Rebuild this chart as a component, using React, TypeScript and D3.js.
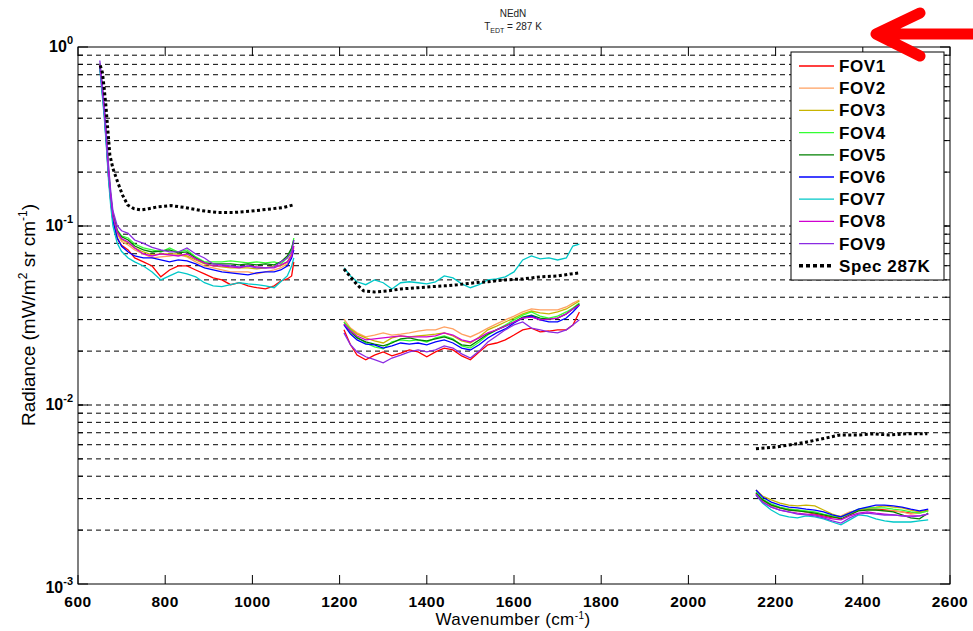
import React from "react";
import * as d3 from "d3";

// wavenumber grids (cm-1) for the three bands
const band1Wn = [650, 655, 660, 665, 670, 675, 680, 690, 700, 715, 730, 750, 770, 790, 810, 830, 850, 870, 890, 910, 930, 950, 970, 990, 1010, 1030, 1050, 1065, 1080, 1090, 1095];
const band2Wn = [1210, 1225, 1240, 1260, 1280, 1300, 1320, 1340, 1360, 1380, 1400, 1420, 1440, 1460, 1480, 1500, 1520, 1540, 1560, 1580, 1600, 1620, 1640, 1660, 1680, 1700, 1720, 1735, 1750];
const band3Wn = [2155, 2170, 2190, 2210, 2230, 2250, 2270, 2290, 2310, 2330, 2350, 2370, 2390, 2410, 2430, 2450, 2470, 2490, 2510, 2530, 2550];

// FOV radiances, band 1
const fov1B1 = [0.8, 0.6, 0.44, 0.3, 0.19, 0.14, 0.108, 0.085, 0.078, 0.0735, 0.0663, 0.063, 0.0598, 0.052, 0.0568, 0.0598, 0.0598, 0.0568, 0.054, 0.0513, 0.05, 0.047, 0.0482, 0.0463, 0.0452, 0.0445, 0.0463, 0.0493, 0.0506, 0.0526, 0.063];
const fov2B1 = [0.79, 0.61, 0.45, 0.31, 0.2, 0.145, 0.112, 0.09, 0.082, 0.0783, 0.0735, 0.0698, 0.0663, 0.0672, 0.068, 0.0689, 0.0672, 0.063, 0.0598, 0.0583, 0.0568, 0.0554, 0.0554, 0.0554, 0.054, 0.0554, 0.0568, 0.0583, 0.0614, 0.068, 0.0754];
const fov3B1 = [0.8, 0.6, 0.45, 0.31, 0.2, 0.145, 0.113, 0.092, 0.084, 0.0804, 0.0754, 0.0716, 0.0689, 0.0698, 0.0698, 0.0698, 0.068, 0.0646, 0.0614, 0.0598, 0.0591, 0.0583, 0.0583, 0.0583, 0.0576, 0.0583, 0.0598, 0.0598, 0.063, 0.0698, 0.0773];
const fov4B1 = [0.81, 0.62, 0.46, 0.32, 0.21, 0.15, 0.118, 0.095, 0.088, 0.0857, 0.0793, 0.0754, 0.0735, 0.0716, 0.0754, 0.0716, 0.0735, 0.0672, 0.063, 0.063, 0.063, 0.0638, 0.063, 0.0622, 0.063, 0.0622, 0.063, 0.0614, 0.0663, 0.0735, 0.0857];
const fov5B1 = [0.8, 0.61, 0.46, 0.31, 0.2, 0.148, 0.116, 0.094, 0.087, 0.0835, 0.0773, 0.0735, 0.0716, 0.0725, 0.0735, 0.0707, 0.0716, 0.0663, 0.0622, 0.0614, 0.0614, 0.0614, 0.0606, 0.0614, 0.0606, 0.0614, 0.0606, 0.063, 0.068, 0.0754, 0.0835];
const fov6B1 = [0.78, 0.58, 0.43, 0.29, 0.19, 0.138, 0.107, 0.086, 0.077, 0.0716, 0.068, 0.0663, 0.0663, 0.0646, 0.063, 0.0646, 0.0638, 0.0614, 0.0583, 0.0568, 0.0554, 0.0547, 0.054, 0.0533, 0.0547, 0.0554, 0.0554, 0.0568, 0.0598, 0.0663, 0.0735];
const fov7B1 = [0.76, 0.56, 0.41, 0.28, 0.18, 0.13, 0.1, 0.08, 0.072, 0.0663, 0.063, 0.0598, 0.0554, 0.05, 0.0526, 0.0554, 0.054, 0.052, 0.0482, 0.0463, 0.0458, 0.047, 0.0482, 0.0475, 0.047, 0.0463, 0.0452, 0.0488, 0.0526, 0.0598, 0.0663];
const fov8B1 = [0.8, 0.61, 0.45, 0.31, 0.2, 0.146, 0.114, 0.093, 0.085, 0.0814, 0.0754, 0.0698, 0.068, 0.0698, 0.0689, 0.068, 0.0698, 0.0655, 0.0622, 0.0598, 0.0598, 0.0591, 0.0583, 0.0598, 0.0591, 0.0583, 0.0583, 0.0606, 0.063, 0.068, 0.0773];
const fov9B1 = [0.84, 0.64, 0.48, 0.33, 0.22, 0.157, 0.122, 0.1, 0.094, 0.091, 0.0835, 0.08, 0.076, 0.0735, 0.0716, 0.0716, 0.0754, 0.0698, 0.0663, 0.0614, 0.0606, 0.0598, 0.0591, 0.0598, 0.0583, 0.0583, 0.0591, 0.063, 0.0663, 0.0716, 0.0835];

// band 2
const fov1B2 = [0.0263, 0.0217, 0.019, 0.0179, 0.019, 0.0198, 0.0188, 0.0195, 0.0203, 0.0198, 0.0186, 0.0198, 0.0208, 0.0203, 0.0188, 0.0179, 0.0198, 0.0217, 0.0222, 0.0231, 0.0246, 0.0263, 0.0269, 0.0256, 0.0259, 0.0263, 0.0263, 0.028, 0.0331];
const fov2B2 = [0.0302, 0.0269, 0.0253, 0.024, 0.0246, 0.0253, 0.0246, 0.0249, 0.0253, 0.0259, 0.0263, 0.0263, 0.0273, 0.0266, 0.0249, 0.024, 0.0253, 0.0269, 0.0284, 0.0299, 0.0314, 0.0331, 0.0344, 0.034, 0.034, 0.034, 0.0353, 0.0371, 0.0386];
const fov3B2 = [0.0291, 0.0266, 0.0249, 0.0237, 0.0228, 0.0222, 0.0237, 0.0243, 0.024, 0.0243, 0.0246, 0.0249, 0.0253, 0.0243, 0.0228, 0.0222, 0.024, 0.0263, 0.0276, 0.0291, 0.0306, 0.0323, 0.0335, 0.0327, 0.0323, 0.0331, 0.0344, 0.0362, 0.0381];
const fov4B2 = [0.0291, 0.0263, 0.024, 0.0222, 0.0211, 0.0206, 0.0225, 0.0231, 0.0228, 0.0231, 0.0225, 0.0237, 0.0243, 0.0234, 0.0214, 0.0208, 0.0225, 0.0246, 0.0263, 0.028, 0.0299, 0.0318, 0.0331, 0.0314, 0.0306, 0.0314, 0.0331, 0.0348, 0.0371];
const fov5B2 = [0.0284, 0.0256, 0.0237, 0.0225, 0.0219, 0.0214, 0.0222, 0.0234, 0.0237, 0.0231, 0.0228, 0.0234, 0.024, 0.0231, 0.0217, 0.0214, 0.0231, 0.0249, 0.0263, 0.0276, 0.0291, 0.031, 0.0318, 0.0306, 0.0302, 0.0306, 0.0323, 0.0344, 0.0367];
const fov6B2 = [0.028, 0.0249, 0.0231, 0.0219, 0.0217, 0.0208, 0.0214, 0.0222, 0.0219, 0.0222, 0.0217, 0.0225, 0.0231, 0.0222, 0.0208, 0.0203, 0.0217, 0.0237, 0.0253, 0.0266, 0.0287, 0.0306, 0.0314, 0.0299, 0.0291, 0.0291, 0.0306, 0.0331, 0.0362];
const fov7B2 = [0.0583, 0.0526, 0.0488, 0.047, 0.05, 0.0482, 0.0445, 0.0482, 0.0488, 0.0482, 0.0475, 0.0488, 0.0526, 0.0513, 0.0475, 0.0452, 0.047, 0.05, 0.0506, 0.052, 0.0554, 0.0646, 0.068, 0.0655, 0.0663, 0.0646, 0.0663, 0.0773, 0.0793];
const fov8B2 = [0.0284, 0.0259, 0.0243, 0.0231, 0.0234, 0.0237, 0.024, 0.0243, 0.024, 0.024, 0.024, 0.0243, 0.0253, 0.0246, 0.0231, 0.0225, 0.0237, 0.0253, 0.0263, 0.0276, 0.0291, 0.0306, 0.031, 0.0299, 0.0302, 0.0306, 0.0323, 0.0344, 0.0362];
const fov9B2 = [0.0253, 0.0217, 0.0198, 0.0186, 0.0179, 0.0172, 0.0183, 0.019, 0.0198, 0.0203, 0.0198, 0.0203, 0.0214, 0.0208, 0.0193, 0.0183, 0.02, 0.0225, 0.0243, 0.0263, 0.028, 0.0291, 0.0269, 0.0263, 0.0256, 0.0253, 0.0263, 0.028, 0.0299];

// band 3
const fov1B3 = [0.00322, 0.00295, 0.00276, 0.00266, 0.00262, 0.00259, 0.00253, 0.00246, 0.0024, 0.00234, 0.00237, 0.00249, 0.00259, 0.00262, 0.00262, 0.00259, 0.00256, 0.00253, 0.00249, 0.00253, 0.00259];
const fov2B3 = [0.00318, 0.00291, 0.00273, 0.00266, 0.00259, 0.00256, 0.00253, 0.00249, 0.00243, 0.00237, 0.0024, 0.00253, 0.00259, 0.00262, 0.00259, 0.00256, 0.00256, 0.00253, 0.00246, 0.00249, 0.00256];
const fov3B3 = [0.00335, 0.0031, 0.00295, 0.00283, 0.00276, 0.00273, 0.00276, 0.00273, 0.00259, 0.00246, 0.00237, 0.00246, 0.00259, 0.00266, 0.00269, 0.00273, 0.00269, 0.00266, 0.00259, 0.00253, 0.00256];
const fov4B3 = [0.00327, 0.00298, 0.0028, 0.00269, 0.00262, 0.00259, 0.00256, 0.00253, 0.00246, 0.0024, 0.00237, 0.00249, 0.00262, 0.00266, 0.00266, 0.00266, 0.00262, 0.00259, 0.00253, 0.00249, 0.00256];
const fov5B3 = [0.00322, 0.00295, 0.00276, 0.00266, 0.00259, 0.00256, 0.00253, 0.00249, 0.00243, 0.00237, 0.00231, 0.00243, 0.00256, 0.00259, 0.00259, 0.00256, 0.00253, 0.00243, 0.00234, 0.00231, 0.00249];
const fov6B3 = [0.00335, 0.00306, 0.00287, 0.00276, 0.00269, 0.00266, 0.00262, 0.00259, 0.00253, 0.00243, 0.00237, 0.00249, 0.00262, 0.00269, 0.00276, 0.00276, 0.00273, 0.00269, 0.00262, 0.00256, 0.00262];
const fov7B3 = [0.00314, 0.00283, 0.00259, 0.00243, 0.00237, 0.00234, 0.0024, 0.00237, 0.00231, 0.00222, 0.00214, 0.00228, 0.00243, 0.0024, 0.00231, 0.00225, 0.00222, 0.00222, 0.00222, 0.00225, 0.00228];
const fov8B3 = [0.00318, 0.00287, 0.00269, 0.00259, 0.00253, 0.00249, 0.00246, 0.00243, 0.00237, 0.00231, 0.00228, 0.0024, 0.00249, 0.00253, 0.00249, 0.00246, 0.00243, 0.0024, 0.0024, 0.0024, 0.00246];
const fov9B3 = [0.00314, 0.00287, 0.00269, 0.00259, 0.00253, 0.00246, 0.00243, 0.0024, 0.00234, 0.00225, 0.00219, 0.00234, 0.00246, 0.00249, 0.00246, 0.00243, 0.00243, 0.0024, 0.00237, 0.0024, 0.00246];

// spec at 287K (dotted black)
const specWn1 = [651, 656, 660, 664, 667, 670, 673, 680, 691, 702, 714, 728, 744, 762, 783, 813, 843, 882, 921, 957, 996, 1035, 1072, 1093];
const specB1 = [0.79, 0.72, 0.59, 0.47, 0.38, 0.31, 0.25, 0.21, 0.176, 0.149, 0.131, 0.125, 0.123, 0.125, 0.128, 0.13, 0.127, 0.122, 0.119, 0.119, 0.121, 0.124, 0.127, 0.131];
const specWn2 = [1210, 1225, 1240, 1255, 1280, 1310, 1340, 1380, 1410, 1440, 1470, 1510, 1540, 1580, 1620, 1660, 1700, 1730, 1750];
const specB2 = [0.0575, 0.052, 0.047, 0.0434, 0.0428, 0.0434, 0.0445, 0.0452, 0.0458, 0.0463, 0.047, 0.0482, 0.0488, 0.05, 0.0506, 0.052, 0.0526, 0.054, 0.0547];
const specWn3 = [2155, 2195, 2235, 2270, 2310, 2348, 2390, 2425, 2460, 2500, 2548];
const specB3 = [0.0057, 0.0058, 0.006, 0.0062, 0.0065, 0.0068, 0.0068, 0.0069, 0.0068, 0.0069, 0.0069];

const fovNames = ["FOV1", "FOV2", "FOV3", "FOV4", "FOV5", "FOV6", "FOV7", "FOV8", "FOV9"];
const fovColors = ["#ff0000", "#ffa060", "#c8b400", "#33ff33", "#008000", "#0000ff", "#00c8c8", "#d000d0", "#8a2be2"];
const fovBands = [
  [fov1B1, fov1B2, fov1B3],
  [fov2B1, fov2B2, fov2B3],
  [fov3B1, fov3B2, fov3B3],
  [fov4B1, fov4B2, fov4B3],
  [fov5B1, fov5B2, fov5B3],
  [fov6B1, fov6B2, fov6B3],
  [fov7B1, fov7B2, fov7B3],
  [fov8B1, fov8B2, fov8B3],
  [fov9B1, fov9B2, fov9B3],
];
const bandWn = [band1Wn, band2Wn, band3Wn];
const specBands = [
  [specWn1, specB1],
  [specWn2, specB2],
  [specWn3, specB3],
];

const xTicks = [600, 800, 1000, 1200, 1400, 1600, 1800, 2000, 2200, 2400, 2600];
const yDecades = [1e-3, 1e-2, 1e-1, 1];
const yExps = ["-3", "-2", "-1", "0"];

const FONT = "'Liberation Sans', Arial, sans-serif";
const SPEC_DASH = "3 2.5";

export default function App() {
  const x = d3.scaleLinear().domain([600, 2600]).range([78, 950]);
  const y = d3.scaleLog().domain([1e-3, 1]).range([584, 47]);
  const [x0, x1] = x.range();
  const [y0, y1] = y.range();

  const line = d3
    .line<[number, number]>()
    .x((d) => x(d[0]))
    .y((d) => y(d[1]));

  const yMinor = y.ticks().filter((v) => v > 1e-3 && v < 1);

  return (
    <svg
      width={973}
      height={631}
      style={{ position: "absolute", left: 0, top: 0, background: "#fff" }}
      fontFamily={FONT}
    >
      <rect x={0} y={0} width={973} height={631} fill="#fff" />

      {/* title */}
      <text x={513} y={17} fontSize={10} textAnchor="middle" fill="#222">
        NEdN
      </text>
      <text x={513} y={30} fontSize={10} textAnchor="middle" fill="#222">
        T<tspan fontSize={7} dy={3}>EDT</tspan>
        <tspan dy={-3}> = 287 K</tspan>
      </text>

      {/* grid lines */}
      {yMinor.map((v, i) => (
        <line
          key={"g" + i}
          x1={x0}
          x2={x1}
          y1={y(v)}
          y2={y(v)}
          stroke="#000"
          strokeWidth={1}
          strokeDasharray="5 4"
        />
      ))}

      {/* data lines */}
      {fovBands.map((bands, fi) =>
        bands.map((vals, bi) => (
          <path
            key={"f" + fi + "-" + bi}
            d={line(bandWn[bi].map((w, k) => [w, vals[k]] as [number, number])) || ""}
            fill="none"
            stroke={fovColors[fi]}
            strokeWidth={1.3}
          />
        ))
      )}
      {specBands.map(([wn, vals], bi) => (
        <path
          key={"s" + bi}
          d={line(wn.map((w, k) => [w, vals[k]] as [number, number])) || ""}
          fill="none"
          stroke="#000"
          strokeWidth={3}
          strokeDasharray={SPEC_DASH}
        />
      ))}

      {/* axes frame */}
      <rect x={x0} y={y1} width={x1 - x0} height={y0 - y1} fill="none" stroke="#000" strokeWidth={1} />

      {/* x ticks */}
      {xTicks.map((t) => (
        <g key={"xt" + t}>
          <line x1={x(t)} x2={x(t)} y1={y0} y2={y0 - 9} stroke="#000" />
          <line x1={x(t)} x2={x(t)} y1={y1} y2={y1 + 9} stroke="#000" />
          <text x={x(t)} y={607} fontSize={15.5} fontWeight="bold" textAnchor="middle" letterSpacing={0.5}>
            {t}
          </text>
        </g>
      ))}

      {/* y ticks */}
      {yMinor.map((v, i) => (
        <g key={"ym" + i}>
          <line x1={x0} x2={x0 + 5} y1={y(v)} y2={y(v)} stroke="#000" />
          <line x1={x1} x2={x1 - 5} y1={y(v)} y2={y(v)} stroke="#000" />
        </g>
      ))}
      {yDecades.map((v, i) => (
        <g key={"yd" + i}>
          <line x1={x0} x2={x0 + 10} y1={y(v)} y2={y(v)} stroke="#000" />
          <line x1={x1} x2={x1 - 10} y1={y(v)} y2={y(v)} stroke="#000" />
          <text x={73} y={y(v) + (i === 0 ? 9 : 5)} fontSize={16} fontWeight="bold" textAnchor="end">
            10
            <tspan fontSize={11} dy={-8}>
              {yExps[i]}
            </tspan>
          </text>
        </g>
      ))}

      {/* axis labels */}
      <text x={513} y={625} fontSize={17} textAnchor="middle" letterSpacing={0.4}>
        Wavenumber (cm<tspan fontSize={10} dy={-6}>-1</tspan>
        <tspan dy={6}>)</tspan>
      </text>
      <text transform="translate(35,315) rotate(-90)" fontSize={19} textAnchor="middle">
        Radiance (mW/m<tspan fontSize={12} dy={-8}>2</tspan>
        <tspan dy={8}> sr cm</tspan>
        <tspan fontSize={12} dy={-8}>-1</tspan>
        <tspan dy={8}>)</tspan>
      </text>

      {/* legend */}
      <rect x={791} y={52} width={153} height={228} fill="#fff" stroke="#000" strokeWidth={1} />
      {fovNames.map((name, i) => {
        const ly = 66 + i * 22.2;
        return (
          <g key={name}>
            <line x1={799} x2={834} y1={ly} y2={ly} stroke={fovColors[i]} strokeWidth={1.3} />
            <text x={839} y={ly + 6} fontSize={17} fontWeight="bold" letterSpacing={0.6}>
              {name}
            </text>
          </g>
        );
      })}
      <line x1={799} x2={834} y1={66 + 9 * 22.2} y2={66 + 9 * 22.2} stroke="#000" strokeWidth={3.5} strokeDasharray="4 3" />
      <text x={839} y={66 + 9 * 22.2 + 6} fontSize={17} fontWeight="bold" letterSpacing={0.6}>
        Spec 287K
      </text>

      {/* red annotation arrow */}
      <path
        d="M973,34 L878,34 M920,13 L876,34 L920,56"
        fill="none"
        stroke="#ff0000"
        strokeWidth={11}
        strokeLinecap="round"
        strokeLinejoin="round"
      />
    </svg>
  );
}
